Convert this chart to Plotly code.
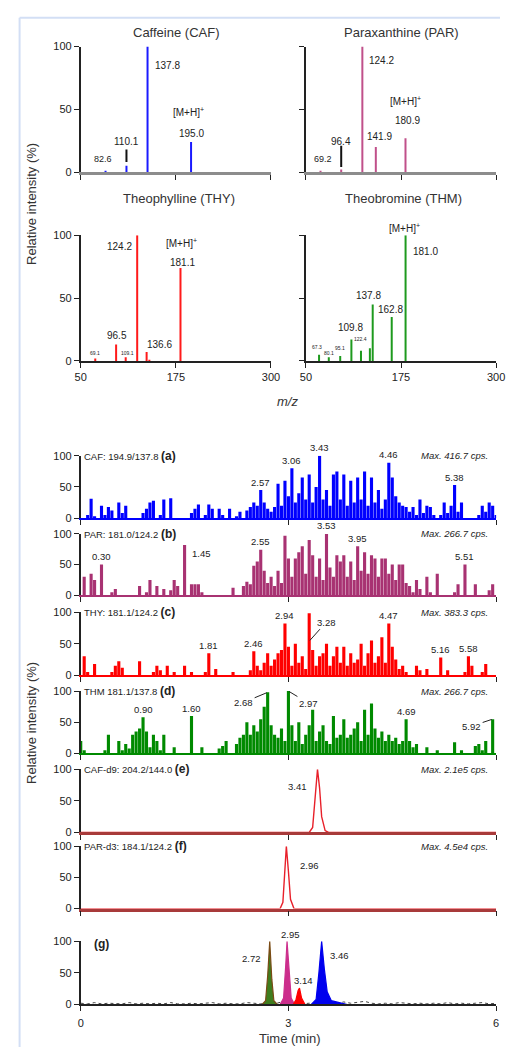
import numpy as np
import plotly.graph_objects as go

W, H = 509, 1053
FONT = "Liberation Sans, Arial, Helvetica, sans-serif"
INK = "#222222"

# ---------------- MS/MS product-ion spectra (m/z, relative intensity %) ----------------
caf_mz = [82.6, 110.1, 137.8, 195.0]
caf_int = [1, 5, 100, 24]
par_mz = [69.2, 96.4, 124.2, 141.9, 180.9]
par_int = [1, 2, 100, 20, 27]
thy_mz = [69.1, 96.5, 109.1, 124.2, 136.6, 140.2, 181.1]
thy_int = [2, 13, 3, 100, 7, 1, 74]
thm_mz = [67.3, 80.1, 95.1, 109.8, 122.4, 134.1, 137.8, 162.8, 181.0]
thm_int = [5, 3, 4, 17, 8, 10, 45, 35, 100]
spec_titles = ["Caffeine (CAF)", "Paraxanthine (PAR)", "Theophylline (THY)", "Theobromine (THM)"]
mz_ticks = [50, 175, 300]
int_ticks = [0, 50, 100]

# ---------------- MRM chromatograms (relative intensity %, sampled every 0.05 min) ----------------
time_step = 0.05
n_pts = 121
time_ticks = [0, 3, 6]

chrom_a = [0, 0, 5, 31, 3, 0, 20, 5, 18, 12,
           0, 25, 8, 20, 0, 0, 0, 0, 8, 15,
           25, 28, 0, 5, 30, 0, 32, 0, 0, 0,
           0, 0, 8, 15, 22, 0, 5, 22, 15, 0,
           15, 5, 0, 15, 0, 3, 10, 0, 12, 18,
           25, 20, 45, 25, 15, 10, 18, 55, 20, 60,
           35, 80, 25, 40, 65, 30, 70, 25, 50, 100,
           30, 45, 20, 70, 75, 30, 70, 20, 60, 25,
           65, 30, 75, 20, 65, 25, 45, 15, 30, 89,
           65, 35, 25, 20, 18, 10, 18, 5, 30, 8,
           20, 18, 5, 0, 5, 25, 8, 20, 53, 10,
           25, 0, 0, 0, 0, 5, 20, 10, 25, 20,
           5]
chrom_b = [0, 30, 0, 35, 25, 0, 50, 0, 0, 5,
           10, 0, 0, 0, 0, 0, 0, 15, 0, 5,
           25, 0, 15, 0, 10, 0, 8, 25, 15, 0,
           82, 0, 18, 18, 18, 5, 0, 0, 0, 0,
           0, 0, 0, 0, 12, 0, 0, 15, 22, 18,
           48, 55, 74, 40, 20, 30, 15, 40, 20, 97,
           60, 30, 60, 70, 80, 35, 90, 65, 30, 60,
           25, 100, 45, 30, 65, 55, 65, 30, 55, 25,
           80, 40, 70, 35, 65, 60, 30, 60, 60, 35,
           50, 25, 50, 50, 20, 15, 5, 25, 10, 0,
           30, 5, 0, 35, 0, 0, 0, 0, 5, 18,
           0, 50, 0, 0, 18, 0, 0, 0, 8, 18,
           0]
chrom_c = [0, 30, 5, 0, 18, 0, 0, 0, 0, 5,
           15, 22, 12, 0, 0, 0, 0, 22, 0, 0,
           0, 5, 15, 8, 0, 15, 0, 5, 0, 0,
           15, 0, 5, 0, 0, 0, 5, 35, 0, 10,
           0, 0, 0, 0, 5, 0, 0, 0, 0, 8,
           38, 15, 8, 20, 35, 15, 25, 35, 40, 82,
           45, 15, 50, 20, 30, 10, 98, 40, 15, 30,
           35, 50, 15, 30, 45, 20, 45, 15, 35, 20,
           25, 50, 15, 35, 55, 20, 30, 60, 20, 82,
           45, 25, 10, 15, 5, 0, 0, 15, 8, 0,
           10, 0, 0, 0, 28, 0, 8, 0, 0, 0,
           0, 5, 30, 15, 0, 0, 5, 18, 0, 0,
           0]
chrom_d = [20, 5, 0, 0, 0, 0, 0, 5, 30, 0,
           0, 20, 5, 15, 8, 30, 35, 40, 58, 35,
           10, 30, 20, 5, 30, 0, 0, 10, 0, 0,
           0, 0, 60, 0, 0, 10, 0, 0, 0, 0,
           8, 12, 20, 0, 0, 15, 25, 30, 50, 30,
           45, 35, 55, 75, 98, 45, 30, 25, 40, 20,
           100, 45, 20, 50, 15, 30, 45, 70, 20, 35,
           45, 20, 15, 60, 25, 30, 55, 25, 30, 40,
           50, 20, 70, 30, 80, 40, 25, 35, 20, 30,
           20, 25, 15, 20, 55, 20, 10, 15, 0, 0,
           10, 0, 0, 5, 0, 0, 0, 0, 18, 0,
           5, 0, 0, 0, 12, 15, 5, 20, 0, 55,
           0]
# internal standards (e) CAF-d9 and (f) PAR-d3
chrom_e_time = [0, 3.30, 3.35, 3.39, 3.42, 3.45, 3.48, 3.53, 3.58, 6]
chrom_e_val = [0, 0, 8, 60, 100, 70, 25, 3, 0, 0]
chrom_f_time = [0, 2.88, 2.92, 2.95, 2.97, 3.00, 3.03, 3.08, 6]
chrom_f_val = [0, 0, 10, 70, 100, 60, 15, 0, 0]
# (g) standard mixture
g_thm_time = [2.62, 2.67, 2.70, 2.73, 2.76, 2.79, 2.84]
g_thm_val = [0, 6, 45, 100, 40, 6, 0]
g_par_time = [2.88, 2.93, 2.96, 2.98, 3.01, 3.04, 3.09]
g_par_val = [0, 10, 60, 100, 55, 10, 0]
g_thy_time = [3.07, 3.11, 3.14, 3.16, 3.19, 3.24]
g_thy_val = [0, 8, 22, 26, 10, 0]
g_caf_time = [3.33, 3.40, 3.44, 3.48, 3.52, 3.56, 3.62, 3.75, 3.85]
g_caf_val = [0, 8, 50, 100, 55, 20, 6, 2, 0]
g_base = [2, 1, 3, 1, 2, 1, 1, 3, 1, 2,
          1, 2, 1, 3, 1, 1, 2, 1, 2, 3,
          1, 2, 1, 1, 3, 2, 1, 2, 1, 4,
          1, 2, 1, 2, 1, 3, 1, 2, 4, 2,
          3, 5, 2, 1, 2, 1, 3, 2, 1, 2,
          1, 2, 1, 3, 1, 2, 1, 2, 3, 1,
          2]

chrom_channels = ["CAF: 194.9/137.8", "PAR: 181.0/124.2", "THY: 181.1/124.2",
                  "THM 181.1/137.8", "CAF-d9: 204.2/144.0", "PAR-d3: 184.1/124.2", ""]
chrom_tags = ["(a)", "(b)", "(c)", "(d)", "(e)", "(f)", "(g)"]
chrom_max = ["Max. 416.7 cps.", "Max. 266.7 cps.", "Max. 383.3 cps.", "Max. 266.7 cps.",
             "Max. 2.1e5 cps.", "Max. 4.5e4 cps.", ""]
a_peaks = ["2.57", "3.06", "3.43", "4.46", "5.38"]
b_peaks = ["0.30", "1.45", "2.55", "3.53", "3.95", "5.51"]
c_peaks = ["1.81", "2.46", "2.94", "3.28", "4.47", "5.16", "5.58"]
d_peaks = ["0.90", "1.60", "2.68", "2.97", "4.69", "5.92"]
g_peaks = ["2.72", "2.95", "3.14", "3.46"]

time_grid = np.arange(n_pts) * time_step

# ---------------- layout geometry (picture pixels) ----------------
panel_px = {
    1: ((77, 273), (41, 168)), 2: ((309, 505), (41, 168)),
    3: ((77, 273), (232, 359)), 4: ((309, 505), (232, 359)),
    5: ((77, 505), (455, 518)), 6: ((77, 505), (534, 596)),
    7: ((77, 505), (613, 677)), 8: ((77, 505), (693, 756)),
    9: ((77, 505), (772, 836)), 10: ((77, 505), (850, 913)),
    11: ((77, 505), (946, 1010)),
}


def fx(p):
    return p / W


def fy(p):
    return 1 - p / H


def axkey(i, k):
    return k + "axis" + ("" if i == 1 else str(i))


def ref(i, k):
    return k + ("" if i == 1 else str(i))


noisy = [(chrom_a, "#0000ff", a_peaks), (chrom_b, "#a83272", b_peaks),
         (chrom_c, "#ff0000", c_peaks), (chrom_d, "#008a00", d_peaks)]

fig = go.Figure()
layout = dict(width=W, height=H, margin=dict(l=0, r=0, t=0, b=0),
              paper_bgcolor="white", plot_bgcolor="white", showlegend=False,
              font=dict(family=FONT, color=INK))

base_ax = dict(showgrid=False, zeroline=False, showline=True, linecolor=INK, linewidth=1.6,
               ticks="outside", ticklen=5, tickwidth=1.4, tickcolor=INK,
               tickfont=dict(size=11, family=FONT, color=INK), fixedrange=True)

for i, ((x0, x1), (yt, yb)) in panel_px.items():
    xa = dict(base_ax, domain=[fx(x0), fx(x1)], anchor=ref(i, "y"))
    ya = dict(base_ax, domain=[fy(yb), fy(yt)], anchor=ref(i, "x"),
              range=[0, 100], tickvals=int_ticks)
    if i <= 4:
        xa.update(range=[50, 300], tickvals=mz_ticks, showticklabels=i >= 3)
        if i <= 2:
            xa.update(linecolor="#8c8c8c", linewidth=2.5)
        ya.update(showticklabels=i in (1, 3))
    else:
        xa.update(range=[0, 6], tickvals=time_ticks, showticklabels=(i == 11),
                  ticklabelstandoff=3)
        if i <= 8:
            xa.update(linecolor=noisy[i - 5][1], linewidth=1.6)
        elif i in (9, 10):
            xa.update(linecolor="#a83a3a", linewidth=2.5)
        else:
            xa.update(linecolor=INK)
    layout[axkey(i, "x")] = xa
    layout[axkey(i, "y")] = ya

annotations = []
shapes = [
    dict(type="line", xref="paper", yref="paper", x0=fx(14), x1=fx(14), y0=0, y1=fy(12),
         line=dict(color="#d3dff5", width=2)),
    dict(type="line", xref="paper", yref="paper", x0=fx(14), x1=1, y0=fy(12), y1=fy(12),
         line=dict(color="#d3dff5", width=2)),
]


def paper_text(xp, yp, text, size, color="#333333", xanchor="center", yanchor="middle", **kw):
    d = dict(xref="paper", yref="paper", x=fx(xp), y=fy(yp), text=text, showarrow=False,
             xanchor=xanchor, yanchor=yanchor, font=dict(size=size, color=color))
    d.update(kw)
    return d


# ---------------- spectra ----------------
spectra = [(caf_mz, caf_int, "#1a1aff"), (par_mz, par_int, "#c0508a"),
           (thy_mz, thy_int, "#ff1a1a"), (thm_mz, thm_int, "#1e9a1e")]
title_px = [(175, 27), (408, 27), (178, 195), (410, 195)]

# label placement: (peak index, xanchor, xshift, yshift, font size)
spec_label_pos = [
    [(0, "center", -3, 12, 9), (1, "center", 0, 24, 10), (2, "left", 5, -19, 10), (3, "center", 0, 8, 10)],
    [(0, "center", 2, 12, 9), (1, "center", 0, 28, 10), (2, "left", 5, -14, 10),
     (3, "center", 4, 10, 10), (4, "center", 2, 18, 10)],
    [(0, "center", 0, 5, 5), (1, "center", 1, 9, 10), (2, "center", 2, 4, 5),
     (3, "right", -3, -11, 10), (4, "center", 13, 8, 10), (6, "center", 2, 5, 10)],
    [(0, "center", -2, 8, 5), (1, "center", 0, 4, 5), (2, "center", 0, 8, 5), (3, "center", -1, 12, 10),
     (4, "center", 0, 12, 5), (6, "center", -4, 9, 10), (7, "center", -1, 7, 10), (8, "left", 5, -16, 10)],
]
mh_pos = [(3, -3, 30), (4, 0, 37), (6, 1, 25), (8, -1, 7)]
leader_pos = [(0, 1, 3, 10), (1, 1, 2, 17)]  # (panel, peak idx, gap above peak %, length %)

for p, (mz, inten, col) in enumerate(spectra):
    i = p + 1
    xs, ys = [], []
    for m, v in zip(mz, inten):
        xs += [m, m, None]
        ys += [0, v, None]
    fig.add_trace(go.Scatter(x=xs, y=ys, mode="lines", line=dict(color=col, width=2),
                             xaxis=ref(i, "x"), yaxis=ref(i, "y"), hoverinfo="skip"))
    tx, ty = title_px[p]
    annotations.append(paper_text(tx, ty, spec_titles[p], 13))
    for (k, xa, xs_, ys_, fs) in spec_label_pos[p]:
        annotations.append(dict(xref=ref(i, "x"), yref=ref(i, "y"), x=mz[k], y=inten[k],
                                text=f"{mz[k]:.1f}", showarrow=False, xanchor=xa, yanchor="middle",
                                xshift=xs_, yshift=ys_, font=dict(size=fs, color=INK)))
    k, xs_, ys_ = mh_pos[p]
    annotations.append(dict(xref=ref(i, "x"), yref=ref(i, "y"), x=mz[k], y=inten[k],
                            text="[M+H]<sup>+</sup>", showarrow=False, xanchor="center",
                            yanchor="middle", xshift=xs_, yshift=ys_, font=dict(size=10, color=INK)))

for (p, k, gap, length) in leader_pos:
    mz, inten, _ = spectra[p]
    i = p + 1
    shapes.append(dict(type="line", xref=ref(i, "x"), yref=ref(i, "y"), x0=mz[k], x1=mz[k],
                       y0=inten[k] + gap, y1=inten[k] + gap + length,
                       line=dict(color="#111111", width=2)))

# ---------------- chromatograms ----------------
arrow_labels = {
    (7, "3.28"): (17, -19, 0.55),
    (8, "2.68"): (-24, 10, 1.0),
    (8, "2.97"): (20, 12, 1.0),
    (8, "5.92"): (-21, 7, 1.0),
}
side_labels = {(6, "1.45"): ("left", 5, -9)}

for p, (vals, col, labels) in enumerate(noisy):
    i = 5 + p
    fig.add_trace(go.Bar(x=time_grid, y=vals, width=0.045, marker=dict(color=col, line=dict(width=0)),
                         xaxis=ref(i, "x"), yaxis=ref(i, "y"), hoverinfo="skip"))
    for lab in labels:
        lt = float(lab)
        idx = [j for j in range(n_pts) if abs(time_grid[j] - lt) <= 0.061]
        jm = max(idx, key=lambda j: vals[j])
        pt, pv = float(time_grid[jm]), vals[jm]
        if (i, lab) in arrow_labels:
            dx, dy, frac = arrow_labels[(i, lab)]
            annotations.append(dict(xref=ref(i, "x"), yref=ref(i, "y"), x=pt, y=pv * frac, text=lab,
                                    showarrow=True, arrowhead=0, arrowwidth=1, arrowcolor=INK,
                                    ax=dx, ay=dy, standoff=1, font=dict(size=9.5, color=INK)))
        elif (i, lab) in side_labels:
            xa, xs_, ys_ = side_labels[(i, lab)]
            annotations.append(dict(xref=ref(i, "x"), yref=ref(i, "y"), x=pt, y=pv, text=lab,
                                    showarrow=False, xanchor=xa, yanchor="middle", xshift=xs_,
                                    yshift=ys_, font=dict(size=9.5, color=INK)))
        else:
            annotations.append(dict(xref=ref(i, "x"), yref=ref(i, "y"), x=pt, y=pv, text=lab,
                                    showarrow=False, xanchor="center", yanchor="middle",
                                    yshift=8, font=dict(size=9.5, color=INK)))

# (e), (f)
for i, tt, vv, lab, xs_, ys_ in [(9, chrom_e_time, chrom_e_val, "3.41", -20, -17),
                                 (10, chrom_f_time, chrom_f_val, "2.96", 23, -19)]:
    fig.add_trace(go.Scatter(x=tt, y=vv, mode="lines", line=dict(color="#e8202a", width=1.4),
                             xaxis=ref(i, "x"), yaxis=ref(i, "y"), hoverinfo="skip"))
    jm = int(np.argmax(vv))
    annotations.append(dict(xref=ref(i, "x"), yref=ref(i, "y"), x=tt[jm], y=vv[jm], text=lab,
                            showarrow=False, xanchor="center", yanchor="middle",
                            xshift=xs_, yshift=ys_, font=dict(size=9.5, color=INK)))

# (g)
fig.add_trace(go.Scatter(x=time_grid[::2], y=g_base, mode="lines",
                         line=dict(color="#444444", width=1, dash="dot"),
                         xaxis="x11", yaxis="y11", hoverinfo="skip"))
g_set = [(g_thm_time, g_thm_val, "#3f7d1e", "#7a4a14", 0, -18, -17),
         (g_par_time, g_par_val, "#cc2e8c", "#cc2e8c", 1, 3, 7),
         (g_thy_time, g_thy_val, "#ff0000", "#ff0000", 2, 4, 8),
         (g_caf_time, g_caf_val, "#0000ee", "#0000ee", 3, 18, -14)]
for tt, vv, fc, lc, li, xs_, ys_ in g_set:
    fig.add_trace(go.Scatter(x=tt, y=vv, mode="lines", line=dict(color=lc, width=1.2),
                             fill="tozeroy", fillcolor=fc, xaxis="x11", yaxis="y11", hoverinfo="skip"))
    jm = int(np.argmax(vv))
    annotations.append(dict(xref="x11", yref="y11", x=tt[jm], y=vv[jm], text=g_peaks[li],
                            showarrow=False, xanchor="center", yanchor="middle",
                            xshift=xs_, yshift=ys_, font=dict(size=9.5, color=INK)))

# channel headers / tags / max intensities
for p in range(7):
    i = 5 + p
    (x0, x1), (yt, yb) = panel_px[i]
    if chrom_channels[p]:
        annotations.append(paper_text(
            x0 + 1, yt, chrom_channels[p] + " <b><span style='font-size:12px'>" + chrom_tags[p] + "</span></b>",
            9.5, INK, xanchor="left"))
        annotations.append(paper_text(499, yt, "<i>" + chrom_max[p] + "</i>", 9.5, INK, xanchor="right"))
    else:
        annotations.append(paper_text(98, yt + 3, "<b>" + chrom_tags[p] + "</b>", 12, INK))

# axis titles
annotations += [
    paper_text(27, 200, "Relative intensity (%)", 13, textangle=-90),
    paper_text(27, 725, "Relative intensity (%)", 13, textangle=-90),
    paper_text(290, 400, "<i>m/z</i>", 13),
    paper_text(293, 1044, "Time (min)", 13),
]

layout["annotations"] = annotations
layout["shapes"] = shapes
fig.update_layout(**layout)
fig.write_html("out.html", config={"displayModeBar": False},
               post_script="document.body.style.margin='0px';document.body.style.overflow='hidden';")
